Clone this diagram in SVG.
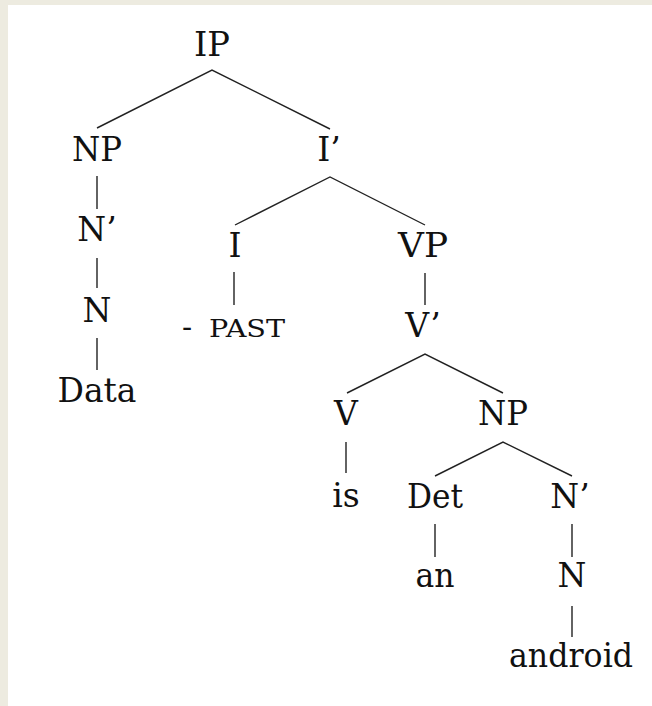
<svg xmlns="http://www.w3.org/2000/svg" width="652" height="706" viewBox="0 0 652 706">
<style>
.lbl{font-family:"DejaVu Serif","Liberation Serif",serif;font-size:33px;fill:#111;text-anchor:middle}
.sc{font-family:"DejaVu Serif","Liberation Serif",serif;font-size:25px;fill:#111}
.edge{stroke:#222;stroke-width:1.4;fill:none;stroke-linejoin:miter}
</style>
<rect x="0" y="0" width="652" height="706" fill="#edebe0"/>
<rect x="8" y="5" width="644" height="701" fill="#ffffff"/>
<g id="connectors" class="edge">
<path d="M97,128 L212,70 L330,129"/>
<path d="M235,225 L330,177 L425,225"/>
<path d="M97,176 V209"/>
<path d="M97,258 V288"/>
<path d="M97,338 V370"/>
<path d="M234,272 V305"/>
<path d="M425,273 V305"/>
<path d="M347,393 L425,354 L503,393"/>
<path d="M346,442 V473"/>
<path d="M435,476 L503,442 L572,476"/>
<path d="M435,524 V557"/>
<path d="M572,524 V557"/>
<path d="M572,606 V637"/>
</g>
<g id="IP"><text class="lbl" x="212" y="56" textLength="36" lengthAdjust="spacingAndGlyphs">IP</text></g>
<g id="NP1"><text class="lbl" x="97" y="161" textLength="50" lengthAdjust="spacingAndGlyphs">NP</text></g>
<g id="Ibar"><text class="lbl" x="329" y="161">I’</text></g>
<g id="Nbar1"><text class="lbl" x="97" y="241">N’</text></g>
<g id="N1"><text class="lbl" x="97" y="322">N</text></g>
<g id="Data"><text class="lbl" x="97" y="402" textLength="79" lengthAdjust="spacingAndGlyphs">Data</text></g>
<g id="I"><text class="lbl" x="235" y="257">I</text></g>
<g id="VP"><text class="lbl" x="423" y="257" textLength="50" lengthAdjust="spacingAndGlyphs">VP</text></g>
<g id="PAST"><text class="sc" y="337"><tspan x="182" font-size="30">-</tspan> <tspan x="209" textLength="76" lengthAdjust="spacingAndGlyphs">PAST</tspan></text></g>
<g id="Vbar"><text class="lbl" x="423" y="337">V’</text></g>
<g id="V"><text class="lbl" x="346" y="425">V</text></g>
<g id="NP2"><text class="lbl" x="503" y="425" textLength="50" lengthAdjust="spacingAndGlyphs">NP</text></g>
<g id="is"><text class="lbl" x="346" y="507">is</text></g>
<g id="Det"><text class="lbl" x="435" y="508" textLength="56" lengthAdjust="spacingAndGlyphs">Det</text></g>
<g id="Nbar2"><text class="lbl" x="570" y="508">N’</text></g>
<g id="an"><text class="lbl" x="435" y="587" textLength="39" lengthAdjust="spacingAndGlyphs">an</text></g>
<g id="N2"><text class="lbl" x="572" y="587">N</text></g>
<g id="android"><text class="lbl" x="571" y="667" textLength="124" lengthAdjust="spacingAndGlyphs">android</text></g>
</svg>
